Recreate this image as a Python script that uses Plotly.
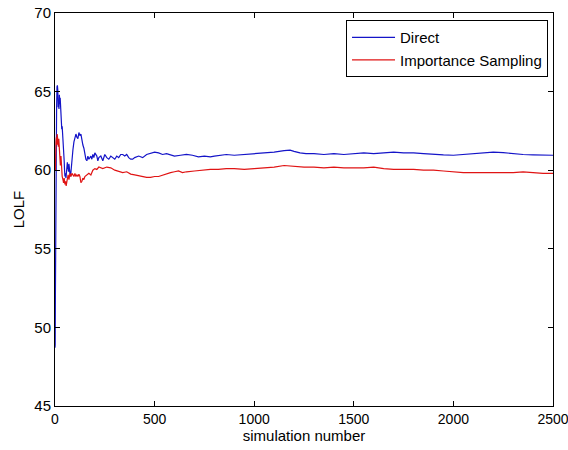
import plotly.graph_objects as go

# Direct estimate (blue)
direct_x = [0, 1, 2, 3, 4, 5, 6, 7, 8, 10, 12, 14, 16, 18, 20, 22, 24, 26, 28, 30,
            32, 34, 36, 38, 40, 42, 44, 46, 48, 50, 52, 55, 58, 60, 62, 65, 68, 70, 72, 75,
            78, 80, 85, 90, 95, 100, 105, 110, 115, 120, 125, 130, 135, 140, 145, 150, 155, 160, 165, 170,
            175, 180, 185, 190, 195, 200, 210, 215, 220, 230, 240, 250, 260, 270, 280, 290, 300, 310, 320, 330,
            340, 350, 360, 370, 380, 390, 400, 420, 440, 460, 480, 500, 520, 540, 560, 580, 600, 630, 660, 690,
            720, 750, 780, 800, 830, 860, 900, 950, 1000, 1050, 1100, 1150, 1180, 1200, 1230, 1260, 1300, 1350, 1400, 1450,
            1500, 1550, 1600, 1650, 1700, 1750, 1800, 1850, 1900, 1950, 2000, 2050, 2100, 2150, 2200, 2250, 2300, 2350, 2400, 2450,
            2500]
direct_y = [48.7, 48.9, 52.0, 57.3, 57.5, 60.5, 61.0, 63.0, 64.0, 65.3, 65.4, 65.1, 64.0, 64.3, 63.9, 64.8, 64.2, 64.6, 64.0, 64.5,
            63.5, 62.6, 62.8, 62.4, 62.5, 61.8, 61.2, 60.6, 60.0, 59.6, 59.8, 59.5, 60.3, 60.1, 60.5, 60.2, 59.9, 60.4, 60.0, 59.8,
            59.6, 60.0, 60.6, 61.3, 61.8, 62.0, 62.3, 62.1, 62.0, 62.4, 62.2, 62.3, 61.9, 61.6, 61.4, 61.0, 60.7, 60.6, 60.9, 60.7,
            60.8, 60.9, 60.7, 61.0, 60.8, 61.1, 60.9, 60.6, 60.8, 60.9, 60.6, 61.0, 60.8, 60.7, 60.9, 60.8, 60.7, 60.9, 60.8, 61.0,
            61.0, 60.9, 61.0, 60.8, 60.7, 60.7, 60.8, 60.9, 60.8, 61.0, 61.1, 61.15, 61.1, 61.0, 61.05, 60.95, 60.9, 60.95, 61.0, 60.95,
            60.85, 60.9, 60.85, 60.9, 60.95, 61.0, 60.95, 61.0, 61.05, 61.1, 61.15, 61.25, 61.28, 61.2, 61.1, 61.05, 61.05, 61.0, 61.05, 61.0,
            61.05, 61.1, 61.05, 61.1, 61.15, 61.1, 61.1, 61.05, 61.0, 60.97, 60.95, 61.0, 61.05, 61.1, 61.15, 61.12, 61.05, 61.0, 60.98, 60.95,
            60.95]

# Importance sampling estimate (red)
is_x = [0, 1, 2, 3, 4, 5, 7, 9, 11, 13, 15, 17, 19, 21, 23, 25, 27, 30, 33, 36,
        40, 43, 46, 50, 53, 56, 60, 63, 66, 70, 75, 80, 85, 90, 95, 100, 105, 110, 115, 120,
        125, 130, 135, 140, 145, 150, 160, 170, 180, 190, 200, 210, 220, 240, 260, 280, 300, 320, 340, 360,
        380, 400, 420, 440, 460, 480, 500, 520, 540, 560, 580, 600, 620, 640, 660, 700, 740, 780, 820, 860,
        900, 950, 1000, 1050, 1100, 1150, 1200, 1250, 1300, 1350, 1400, 1450, 1500, 1550, 1600, 1650, 1700, 1750, 1800, 1850,
        1900, 1950, 2000, 2050, 2100, 2200, 2300, 2350, 2400, 2450, 2500]
is_y = [60.3, 61.5, 60.0, 61.2, 60.8, 61.8, 62.1, 61.6, 62.3, 62.0, 62.2, 61.5, 62.0, 61.2, 60.6, 61.0, 60.3, 60.9, 60.0, 59.6,
        59.4, 59.2, 59.5, 59.1, 59.3, 59.0, 59.3, 59.5, 59.7, 59.4, 59.8, 59.6, 59.8, 59.7, 59.6, 59.8, 59.6, 59.7, 59.6, 59.75,
        59.6, 59.2, 59.3, 59.5, 59.4, 59.6, 59.7, 59.8, 59.7, 60.0, 60.1, 60.05, 60.2, 60.1, 60.2, 60.15, 60.0, 59.9, 59.85, 59.9,
        59.75, 59.7, 59.65, 59.6, 59.55, 59.55, 59.6, 59.6, 59.7, 59.75, 59.85, 59.9, 59.95, 59.85, 59.9, 59.95, 60.0, 60.05, 60.05, 60.1,
        60.1, 60.05, 60.1, 60.15, 60.2, 60.3, 60.25, 60.2, 60.2, 60.15, 60.2, 60.15, 60.15, 60.15, 60.2, 60.1, 60.05, 60.05, 60.05, 60.0,
        60.0, 59.95, 59.9, 59.85, 59.85, 59.85, 59.85, 59.9, 59.85, 59.8, 59.8]

x_ticks = [0, 500, 1000, 1500, 2000, 2500]
y_ticks = [45, 50, 55, 60, 65, 70]

font_family = "Liberation Sans, Arial, sans-serif"

fig = go.Figure()
fig.add_trace(go.Scatter(x=direct_x, y=direct_y, mode="lines", name="Direct",
                         line=dict(color="#1414c8", width=1.2)))
fig.add_trace(go.Scatter(x=is_x, y=is_y, mode="lines", name="Importance Sampling",
                         line=dict(color="#e01414", width=1.2)))

axis_common = dict(showgrid=False, zeroline=False, showline=True, linecolor="black", linewidth=1,
                   mirror="ticks", ticks="inside", ticklen=5, tickcolor="black", tickwidth=1,
                   automargin=False, ticklabeloverflow="allow")

fig.update_layout(
    width=568, height=450,
    margin=dict(l=55, r=15, t=13, b=44),
    paper_bgcolor="white", plot_bgcolor="white",
    font=dict(family=font_family, size=15, color="black"),
    showlegend=True,
    legend=dict(x=0.99, y=0.982, xanchor="right", yanchor="top",
                bordercolor="black", borderwidth=1, bgcolor="white",
                itemwidth=43,
                font=dict(family=font_family, size=15, color="black"),
                tracegroupgap=0),
    xaxis=dict(range=[-0.01, 2500.01], tickvals=x_ticks, ticktext=[str(v) for v in x_ticks],
               tickfont=dict(family=font_family, size=14, color="black"),
               title=dict(text="simulation number", standoff=0,
                          font=dict(family=font_family, size=15, color="black")),
               **axis_common),
    yaxis=dict(range=[44.999, 70.001], tickvals=y_ticks, ticktext=[str(v) for v in y_ticks],
               tickfont=dict(family=font_family, size=15, color="black"),
               title=dict(text="LOLF", standoff=6,
                          font=dict(family=font_family, size=15, color="black")),
               **axis_common),
)

fig.write_html("out.html", config={"displayModeBar": False},
               post_script="document.body.style.margin='0';document.body.style.overflow='hidden';")
